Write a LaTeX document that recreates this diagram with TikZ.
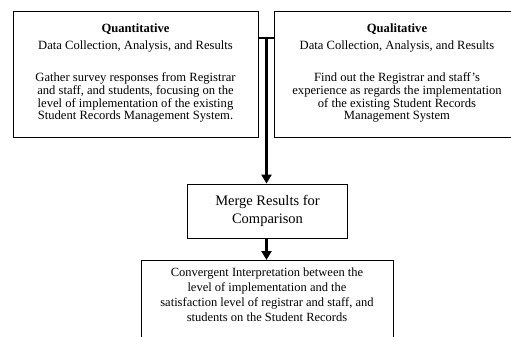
\documentclass[tikz,border=0pt]{standalone}
\usepackage{fontspec}
\setmainfont{Liberation Serif}
\usetikzlibrary{arrows.meta}
\newcommand{\topfont}{\fontsize{12.6pt}{12.7pt}\selectfont}
\newcommand{\mergefont}{\fontsize{14.5pt}{18.5pt}\selectfont}
\newcommand{\convfont}{\fontsize{12.5pt}{15pt}\selectfont}
\begin{document}
\begin{tikzpicture}[x=1pt,y=-1pt,
  box/.style={draw, line width=0.9pt, align=center, inner sep=0pt},
  conn/.style={line width=2.3pt},
  arr/.style={conn, -{Triangle[width=10pt,length=9pt]}}]
\useasboundingbox (0,0) rectangle (511,337);
\node[box, minimum width=245pt, minimum height=126pt, font=\topfont] (quant) at (135.5,74)
  {\textbf{Quantitative}\\[3.5pt] Data Collection, Analysis, and Results\\[20pt]
   Gather survey responses from Registrar\\ and staff, and students, focusing on the\\
   level of implementation of the existing\\ Student Records Management System.\rule[-4pt]{0pt}{0pt}};
\node[box, minimum width=246pt, minimum height=126pt, font=\topfont] (qual) at (397,74)
  {\textbf{Qualitative}\\[3.5pt] Data Collection, Analysis, and Results\\[20pt]
   Find out the Registrar and staff’s\\ experience as regards the implementation\\
   of the existing Student Records\\ Management System\rule[-4pt]{0pt}{0pt}};
\node[box, minimum width=160pt, minimum height=54pt, font=\mergefont] (merge) at (267.5,211)
  {Merge Results for\\ Comparison};
\node[box, anchor=north, minimum width=252pt, inner ysep=7.5pt, font=\convfont] (conv) at (267,260)
  {Convergent Interpretation between the\\ level of implementation and the\\
   satisfaction level of registrar and staff, and\\ students on the Student Records\rule[-70pt]{0pt}{0pt}};
\coordinate (j) at (266.5,38);
\draw[conn] (quant.east |- j) -- (qual.west |- j);
\draw[arr] (j) -- (j |- merge.north);
\draw[arr] (j |- merge.south) -- (j |- conv.north);
\end{tikzpicture}
\end{document}
